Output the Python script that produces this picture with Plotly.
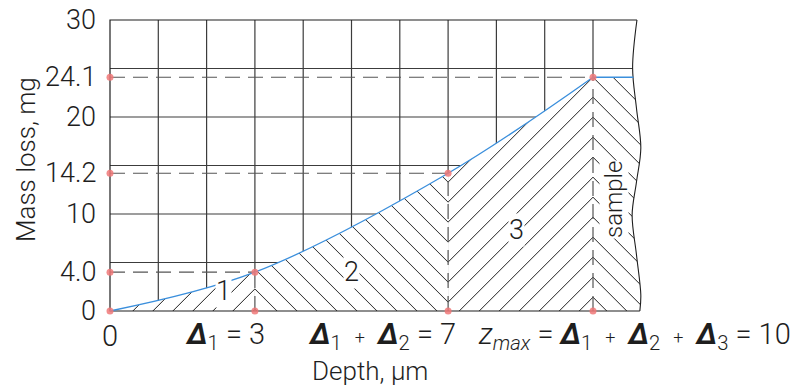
import numpy as np
import plotly.graph_objects as go

# ---------------------------------------------------------------- data
depth = [0, 3, 7, 10]                 # µm, layer boundaries Δ1, Δ1+Δ2, zmax
mass_loss = [0.0, 4.0, 14.2, 24.1]    # mg, cumulative mass loss at each depth

y_tick_vals = [0, 4.0, 10, 14.2, 20, 24.1, 30]
y_tick_text = ["0", "4.0", "10", "14.2", "20", "24.1", "30"]

DELTA = "<b><i>Δ</i></b>"
PLUS = "\u2009<span style='font-size:18px'>+</span>\u2009"
x_tick_text = [
    "0",
    f"{DELTA}<sub>1</sub> = 3",
    f"{DELTA}<sub>1</sub> {PLUS} {DELTA}<sub>2</sub> = 7",
    f"<i>z<sub>max</sub></i> = {DELTA}<sub>1</sub> {PLUS} "
    f"{DELTA}<sub>2</sub> {PLUS} {DELTA}<sub>3</sub> = 10",
]
region_names = ["1", "2", "3"]
sample_name = "sample"
x_title = "Depth, μm"
y_title = "Mass loss, mg"

grid_x = list(range(1, 11))
grid_y = [5, 10, 15, 20, 25]
y_top = 30

# broken-off right edge of the sample (drawn as a wavy outline)
edge_y = [30.0, 25.05, 20.9, 16.8, 13.3, 9.9, 5.8, 1.65, 0.0]
edge_x = [10.91, 10.82, 10.90, 10.99, 10.90, 10.81, 10.90, 10.99, 10.97]

# ---------------------------------------------------------------- geometry
W, H = 798, 387
L, R, T, B = 100, 662, 12, 318          # plot area in pixels
PW, PH = R - L, B - T
X0_PX, X_UNIT = 110.0, 48.3             # pixel of depth 0, pixels per µm
Y0_PX, Y_UNIT = 311.0, 9.7              # pixel of 0 mg, pixels per mg


def xval(p):
    return (p - X0_PX) / X_UNIT


def yval(p):
    return (Y0_PX - p) / Y_UNIT


def xpx(v):
    return X0_PX + v * X_UNIT


def ypx(v):
    return Y0_PX - v * Y_UNIT


def xpaper(p):
    return (p - L) / PW


def ypaper(p):
    return (B - p) / PH


def axis_pair(left, right, top, bottom):
    xa = dict(domain=[(left - L) / PW, (right - L) / PW],
              range=[xval(left), xval(right)], visible=False, fixedrange=True)
    ya = dict(domain=[(B - bottom) / PH, (B - top) / PH],
              range=[yval(bottom), yval(top)], visible=False, fixedrange=True)
    return xa, ya


FONT = "Roboto, Liberation Sans, sans-serif"
INK = "#1e1e1e"
GRID = "#3c3c3c"
GUIDE = "#555555"
BLUE = "#3b8fdc"
DOT = "rgba(240,120,120,0.85)"


def font(size):
    return dict(family=FONT, size=size, color=INK, weight=300)


# hatch spacing (horizontal, px); every hatched block gets its own subplot so
# the pattern origin can be phased to make chevrons meet on the boundaries
HATCH = 20.0
PAT_SIZE = HATCH / np.sqrt(2)
PAT_SOLID = 1.0 / PAT_SIZE


def phase(target):
    return T + ((target - T) % HATCH)


t_sample = ypx(mass_loss[-1])
t3 = phase(t_sample + (depth[3] - depth[2]) * X_UNIT)
t2 = phase(t3 - (depth[2] - depth[1]) * X_UNIT)
t1 = phase(t2 + (depth[1] - depth[0]) * X_UNIT)

fig = go.Figure()
layout_axes = {}

# ---------------------------------------------------------------- base grid
layout_axes["xaxis"] = dict(range=[xval(L), xval(R)], domain=[0, 1], visible=False, fixedrange=True)
layout_axes["yaxis"] = dict(range=[yval(B), yval(T)], domain=[0, 1], visible=False, fixedrange=True)

x_far = xval(R) + 1
gx, gy = [], []
for g in grid_x:
    gx += [g, g, None]
    gy += [0, y_top, None]
for g in grid_y:
    gx += [0, x_far, None]
    gy += [g, g, None]
fig.add_trace(go.Scatter(x=gx, y=gy, mode="lines", line=dict(color=GRID, width=1.2),
                         hoverinfo="skip", showlegend=False))

# white mask beyond the broken edge
fig.add_trace(go.Scatter(x=[x_far, x_far], y=[edge_y[0], edge_y[-1]], mode="lines",
                         line=dict(width=0), hoverinfo="skip", showlegend=False))
fig.add_trace(go.Scatter(x=edge_x, y=edge_y, mode="lines", fill="tonextx", fillcolor="white",
                         line=dict(width=0, shape="spline"), hoverinfo="skip", showlegend=False))

# ---------------------------------------------------------------- hatched layers
regions = [
    (depth[0], depth[1], "/", t1),
    (depth[1], depth[2], "\\", t2),
    (depth[2], depth[3], "/", t3),
]
n = 2
for a, b, shape, top in regions:
    xa, ya = axis_pair(xpx(a), xpx(b), top, B)
    xa["anchor"] = f"y{n}"
    ya["anchor"] = f"x{n}"
    layout_axes[f"xaxis{n}"] = xa
    layout_axes[f"yaxis{n}"] = ya
    fig.add_trace(go.Scatter(
        x=depth, y=mass_loss, mode="lines", xaxis=f"x{n}", yaxis=f"y{n}",
        line=dict(width=0, shape="spline"), fill="tozeroy", fillcolor="white",
        fillpattern=dict(shape=shape, size=PAT_SIZE, solidity=PAT_SOLID,
                         fgcolor=INK, bgcolor="white", fillmode="replace"),
        hoverinfo="skip", showlegend=False))
    n += 1

# sample material beyond zmax
xa, ya = axis_pair(xpx(depth[-1]), R, t_sample, B)
xa["anchor"] = f"y{n}"
ya["anchor"] = f"x{n}"
layout_axes[f"xaxis{n}"] = xa
layout_axes[f"yaxis{n}"] = ya
fig.add_trace(go.Scatter(
    x=edge_x, y=edge_y, mode="lines", xaxis=f"x{n}", yaxis=f"y{n}",
    line=dict(width=0, shape="spline"), fill="tozerox", fillcolor="white",
    fillpattern=dict(shape="\\", size=PAT_SIZE, solidity=PAT_SOLID,
                     fgcolor=INK, bgcolor="white", fillmode="replace"),
    hoverinfo="skip", showlegend=False))
n += 1

# ---------------------------------------------------------------- top layer
top_x, top_y = f"x{n}", f"y{n}"
layout_axes[f"xaxis{n}"] = dict(range=[xval(L), xval(R)], domain=[0, 1], visible=False,
                                fixedrange=True, anchor=top_y)
layout_axes[f"yaxis{n}"] = dict(range=[yval(B), yval(T)], domain=[0, 1], visible=False,
                                fixedrange=True, anchor=top_x)

# dashed projections of each measured point onto both axes
dx, dy = [], []
for d, m in zip(depth[1:], mass_loss[1:]):
    dx += [0, d, None, d, d, None]
    dy += [m, m, None, 0, m, None]
fig.add_trace(go.Scatter(x=dx, y=dy, mode="lines", xaxis=top_x, yaxis=top_y,
                         line=dict(color=GUIDE, width=1.2, dash="15px,8px"),
                         hoverinfo="skip", showlegend=False))

# frame
fig.add_trace(go.Scatter(
    x=[edge_x[0], 0, 0, edge_x[-1]], y=[y_top, y_top, 0, 0], mode="lines",
    xaxis=top_x, yaxis=top_y, line=dict(color=INK, width=1.2),
    hoverinfo="skip", showlegend=False))
fig.add_trace(go.Scatter(
    x=edge_x, y=edge_y, mode="lines", xaxis=top_x, yaxis=top_y,
    line=dict(color=INK, width=1.1, shape="spline"), hoverinfo="skip", showlegend=False))

# mass-loss curve and the untouched surface level beyond zmax
edge_at_top = float(np.interp(mass_loss[-1], edge_y[::-1], edge_x[::-1]))
fig.add_trace(go.Scatter(x=depth, y=mass_loss, mode="lines", xaxis=top_x, yaxis=top_y,
                         line=dict(color=BLUE, width=1.3, shape="spline"),
                         hoverinfo="skip", showlegend=False))
fig.add_trace(go.Scatter(x=[depth[-1], edge_at_top], y=[mass_loss[-1], mass_loss[-1]],
                         mode="lines", xaxis=top_x, yaxis=top_y,
                         line=dict(color=BLUE, width=1.3), hoverinfo="skip", showlegend=False))

# measured points and their projections
mx = [0] * len(mass_loss) + depth[1:] + depth[1:]
my = mass_loss + mass_loss[1:] + [0] * (len(depth) - 1)
fig.add_trace(go.Scatter(x=mx, y=my, mode="markers", xaxis=top_x, yaxis=top_y,
                         marker=dict(color=DOT, size=7, line=dict(width=0)),
                         cliponaxis=False, hoverinfo="skip", showlegend=False))

# ---------------------------------------------------------------- text
ann = []
for v, t in zip(y_tick_vals, y_tick_text):
    ann.append(dict(x=xpaper(xpx(0) - 12), y=ypaper(ypx(v)), xref="paper", yref="paper",
                    text=t, showarrow=False, xanchor="right", yanchor="middle",
                    font=font(27)))

label_y = ypaper(336)
x_label_anchor = [
    ("center", xpx(depth[0])),
    ("right", xpx(depth[1]) + 12),
    ("right", xpx(depth[2]) + 10),
    ("center", xpx(depth[3]) + 41),
]
for (anchor, px_), t in zip(x_label_anchor, x_tick_text):
    ann.append(dict(x=xpaper(px_), y=label_y, xref="paper", yref="paper", text=t,
                    showarrow=False, xanchor=anchor, yanchor="middle", font=font(29)))

ann.append(dict(x=xpaper(370), y=ypaper(371), xref="paper", yref="paper", text=x_title,
                showarrow=False, xanchor="center", yanchor="middle", font=font(26)))
ann.append(dict(x=xpaper(26), y=ypaper(160), xref="paper", yref="paper", text=y_title,
                showarrow=False, xanchor="center", yanchor="middle", textangle=-90,
                font=font(26)))

region_pos = [(223, 291), (351, 272), (516, 230)]
for (px_, py_), name in zip(region_pos, region_names):
    ann.append(dict(x=xpaper(px_), y=ypaper(py_), xref="paper", yref="paper", text=name,
                    showarrow=False, xanchor="center", yanchor="middle", bgcolor="white",
                    borderpad=0, font=font(27)))
ann.append(dict(x=xpaper(614), y=ypaper(200), xref="paper", yref="paper", text=sample_name,
                showarrow=False, xanchor="center", yanchor="middle", textangle=-90,
                bgcolor="white", borderpad=0, font=font(24)))

fig.update_layout(
    width=W, height=H,
    margin=dict(l=L, r=W - R, t=T, b=H - B, pad=0),
    paper_bgcolor="white", plot_bgcolor="rgba(0,0,0,0)",
    showlegend=False, annotations=ann,
    **layout_axes,
)

fig.write_html("out.html", config=dict(displayModeBar=False, staticPlot=True))
